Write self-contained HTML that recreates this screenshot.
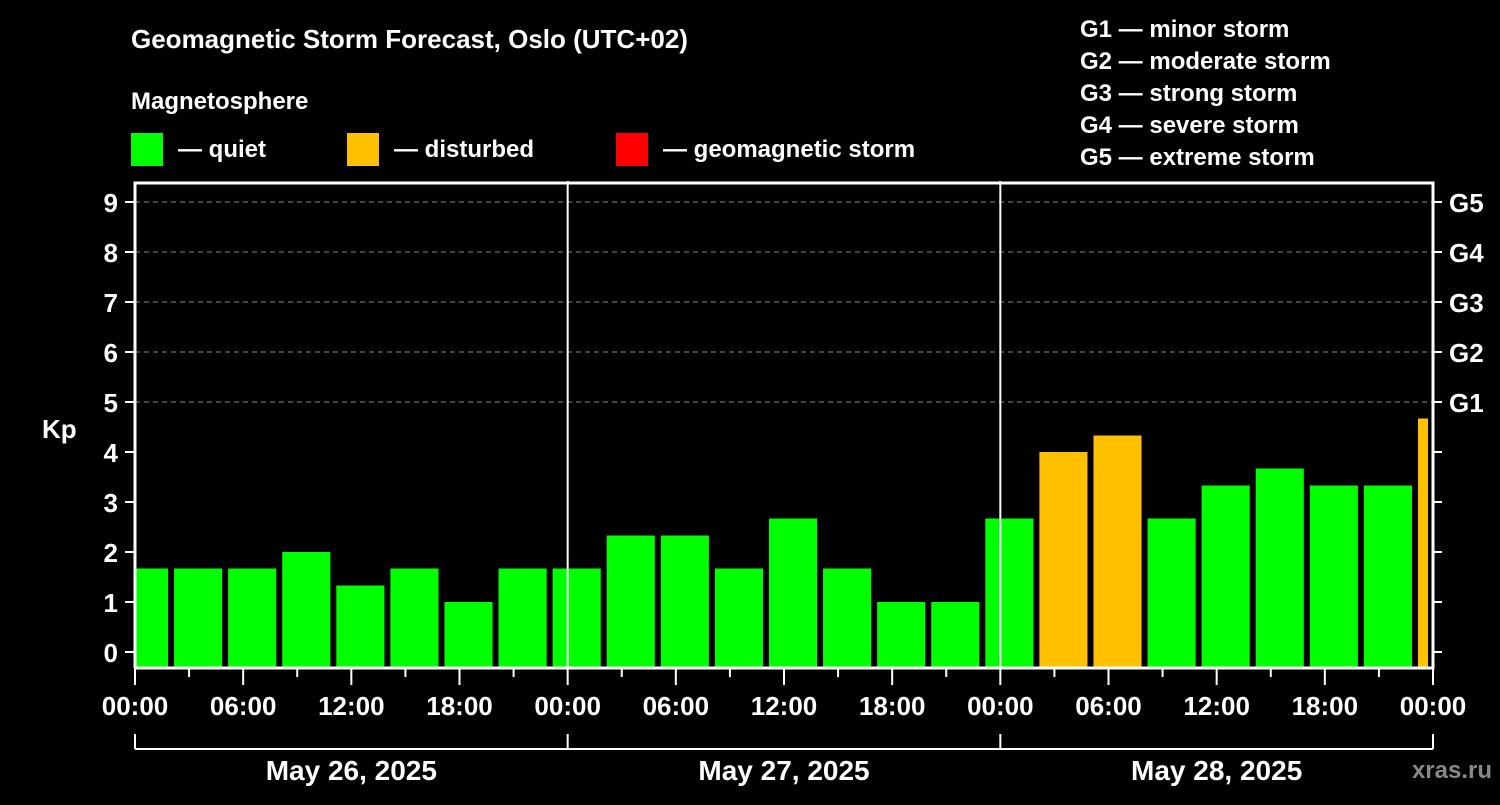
<!DOCTYPE html>
<html><head><meta charset="utf-8"><style>
body{margin:0;background:#000;width:1500px;height:800px;overflow:hidden}
svg text{font-family:"Liberation Sans",sans-serif;font-weight:bold;fill:#fff}
</style></head><body>
<svg id="c" width="1500" height="800">
<text x="131" y="48" font-size="26">Geomagnetic Storm Forecast, Oslo (UTC+02)</text>
<text x="131" y="109" font-size="24">Magnetosphere</text>
<rect x="131" y="133" width="32" height="33" fill="#00ff00"/>
<text x="178" y="157" font-size="24">— quiet</text>
<rect x="347" y="133" width="32" height="33" fill="#ffc000"/>
<text x="394" y="157" font-size="24">— disturbed</text>
<rect x="616" y="133" width="32" height="33" fill="#ff0000"/>
<text x="663" y="157" font-size="24">— geomagnetic storm</text>
<g font-size="24">
<text x="1080" y="37">G1 — minor storm</text>
<text x="1080" y="69">G2 — moderate storm</text>
<text x="1080" y="101">G3 — strong storm</text>
<text x="1080" y="133">G4 — severe storm</text>
<text x="1080" y="165">G5 — extreme storm</text>
</g>
<text x="42" y="438" font-size="26">Kp</text>
<text x="1492" y="778" font-size="24" text-anchor="end" style="fill:#888">xras.ru</text>
<g id="g"></g>
</svg>
<script>
const kpValues=[1.67,1.67,1.67,2,1.33,1.67,1,1.67,1.67,2.33,2.33,1.67,2.67,1.67,1,1,2.67,4,4.33,2.67,3.33,3.67,3.33,3.33,4.67];
const startHour=-1;
const yTicks=[0,1,2,3,4,5,6,7,8,9];
const gLabels=["G1","G2","G3","G4","G5"];
const xTickLabels=["00:00","06:00","12:00","18:00","00:00","06:00","12:00","18:00","00:00","06:00","12:00","18:00","00:00"];
const dayLabels=["May 26, 2025","May 27, 2025","May 28, 2025"];
const L=135,R=1433,T=183,B=668;
const X=h=>L+(R-L)*h/72, Y=k=>652-50*k;
const NS="http://www.w3.org/2000/svg",g=document.getElementById('g');
function mk(t,a,txt){const e=document.createElementNS(NS,t);for(const k in a)e.setAttribute(k,a[k]);if(txt!=null)e.textContent=txt;g.appendChild(e);return e;}
// grid
for(let k=5;k<=9;k++){const e=mk('line',{x1:L,x2:R,y1:Y(k),y2:Y(k),stroke:'#888','stroke-dasharray':'5,4','stroke-width':1});

}
// bars
kpValues.forEach((v,i)=>{const h0=startHour+3*i;let x0=X(h0)+3,x1=X(h0+3)-3;x0=Math.max(x0,L+1);x1=Math.min(x1,R-5);
const col=v>=5?'#ff0000':(v>=4?'#ffc000':'#00ff00');
const e=mk('rect',{x:x0,y:Y(v),width:x1-x0,height:B-Y(v),fill:col});

});
// day separators
[1,2].forEach(d=>{const e=mk('line',{x1:X(24*d),x2:X(24*d),y1:T-2,y2:B,stroke:'#fff','stroke-width':2});

});
// frame
const f=mk('path',{d:`M${L},${B} L${L},${T} L${R},${T} L${R},${B} L${L},${B}`,fill:'none',stroke:'#fff','stroke-width':3});


// y ticks
yTicks.forEach(k=>{mk('line',{x1:L-10,x2:L,y1:Y(k),y2:Y(k),stroke:'#fff','stroke-width':2});
mk('line',{x1:R,x2:R+9,y1:Y(k),y2:Y(k),stroke:'#fff','stroke-width':2});
const t=mk('text',{x:L-17,y:Y(k)+10,'font-size':26,'text-anchor':'end'},String(k));

});
gLabels.forEach((s,i)=>{const t=mk('text',{x:R+16,y:Y(5+i)+10,'font-size':26},s);

});
// x ticks
for(let h=0;h<=72;h+=3){mk('line',{x1:X(h),x2:X(h),y1:B,y2:B+(h%6===0?17:9),stroke:'#fff','stroke-width':2});}
xTickLabels.forEach((s,i)=>{const t=mk('text',{x:X(6*i),y:715,'font-size':26,'text-anchor':'middle'},s);

});
// date bracket
mk('line',{x1:L,x2:R,y1:749,y2:749,stroke:'#fff','stroke-width':2});
for(let d=0;d<=3;d++)mk('line',{x1:X(24*d),x2:X(24*d),y1:734,y2:749,stroke:'#fff','stroke-width':2});
dayLabels.forEach((s,i)=>{const t=mk('text',{x:X(24*i+12),y:780,'font-size':28,'text-anchor':'middle'},s);

});
</script>
</body></html>
